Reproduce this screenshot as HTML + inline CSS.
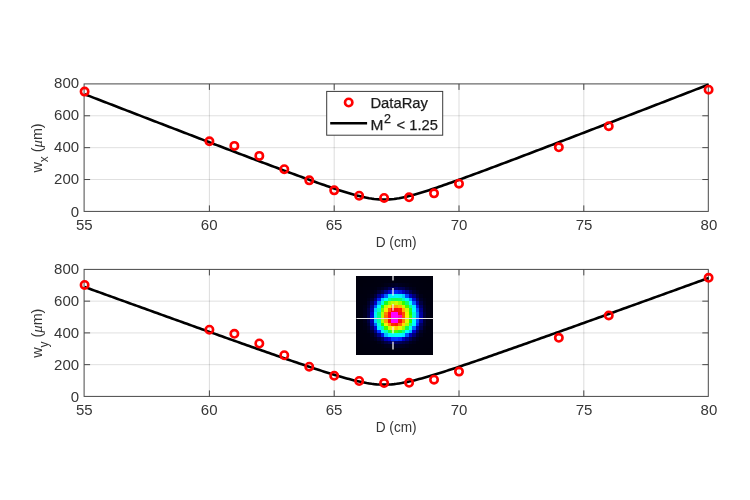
<!DOCTYPE html>
<html><head><meta charset="utf-8"><title>Beam width vs D</title>
<style>html,body{margin:0;padding:0;background:#fff;overflow:hidden}body{width:750px;height:500px;font-family:"Liberation Sans",sans-serif}</style></head>
<body>
<svg width="750" height="500" viewBox="0 0 750 500" style="display:block;will-change:transform;font-family:'Liberation Sans',sans-serif">
<rect width="750" height="500" fill="#fff"/>
<line x1="209.40" y1="83.9" x2="209.40" y2="211.4" stroke="rgba(38,38,38,0.16)" stroke-width="1"/>
<line x1="334.20" y1="83.9" x2="334.20" y2="211.4" stroke="rgba(38,38,38,0.16)" stroke-width="1"/>
<line x1="459.00" y1="83.9" x2="459.00" y2="211.4" stroke="rgba(38,38,38,0.16)" stroke-width="1"/>
<line x1="583.80" y1="83.9" x2="583.80" y2="211.4" stroke="rgba(38,38,38,0.16)" stroke-width="1"/>
<line x1="84.1" y1="179.53" x2="708.3" y2="179.53" stroke="rgba(38,38,38,0.14)" stroke-width="1"/>
<line x1="84.1" y1="147.65" x2="708.3" y2="147.65" stroke="rgba(38,38,38,0.14)" stroke-width="1"/>
<line x1="84.1" y1="115.78" x2="708.3" y2="115.78" stroke="rgba(38,38,38,0.14)" stroke-width="1"/>
<line x1="209.40" y1="211.4" x2="209.40" y2="205.4" stroke="#484848" stroke-width="1"/>
<line x1="209.40" y1="83.9" x2="209.40" y2="89.9" stroke="#484848" stroke-width="1"/>
<line x1="334.20" y1="211.4" x2="334.20" y2="205.4" stroke="#484848" stroke-width="1"/>
<line x1="334.20" y1="83.9" x2="334.20" y2="89.9" stroke="#484848" stroke-width="1"/>
<line x1="459.00" y1="211.4" x2="459.00" y2="205.4" stroke="#484848" stroke-width="1"/>
<line x1="459.00" y1="83.9" x2="459.00" y2="89.9" stroke="#484848" stroke-width="1"/>
<line x1="583.80" y1="211.4" x2="583.80" y2="205.4" stroke="#484848" stroke-width="1"/>
<line x1="583.80" y1="83.9" x2="583.80" y2="89.9" stroke="#484848" stroke-width="1"/>
<line x1="84.1" y1="179.53" x2="90.1" y2="179.53" stroke="#484848" stroke-width="1"/>
<line x1="708.3" y1="179.53" x2="702.3" y2="179.53" stroke="#484848" stroke-width="1"/>
<line x1="84.1" y1="147.65" x2="90.1" y2="147.65" stroke="#484848" stroke-width="1"/>
<line x1="708.3" y1="147.65" x2="702.3" y2="147.65" stroke="#484848" stroke-width="1"/>
<line x1="84.1" y1="115.78" x2="90.1" y2="115.78" stroke="#484848" stroke-width="1"/>
<line x1="708.3" y1="115.78" x2="702.3" y2="115.78" stroke="#484848" stroke-width="1"/>
<rect x="84.1" y="83.9" width="624.20" height="127.50" fill="none" stroke="#484848" stroke-width="1"/>
<polyline points="84.60,94.23 87.10,95.20 89.59,96.16 92.09,97.13 94.58,98.09 97.08,99.05 99.58,100.02 102.07,100.98 104.57,101.94 107.06,102.90 109.56,103.87 112.06,104.83 114.55,105.79 117.05,106.76 119.54,107.72 122.04,108.68 124.54,109.64 127.03,110.60 129.53,111.57 132.02,112.53 134.52,113.49 137.02,114.45 139.51,115.41 142.01,116.37 144.50,117.34 147.00,118.30 149.50,119.26 151.99,120.22 154.49,121.18 156.98,122.14 159.48,123.10 161.98,124.06 164.47,125.02 166.97,125.98 169.46,126.94 171.96,127.90 174.46,128.86 176.95,129.82 179.45,130.77 181.94,131.73 184.44,132.69 186.94,133.65 189.43,134.61 191.93,135.56 194.42,136.52 196.92,137.48 199.42,138.43 201.91,139.39 204.41,140.35 206.90,141.30 209.40,142.26 211.90,143.21 214.39,144.17 216.89,145.12 219.38,146.07 221.88,147.03 224.38,147.98 226.87,148.93 229.37,149.88 231.86,150.83 234.36,151.78 236.86,152.73 239.35,153.68 241.85,154.63 244.34,155.58 246.84,156.53 249.34,157.47 251.83,158.42 254.33,159.36 256.82,160.31 259.32,161.25 261.82,162.19 264.31,163.13 266.81,164.07 269.30,165.01 271.80,165.95 274.30,166.89 276.79,167.82 279.29,168.75 281.78,169.68 284.28,170.61 286.78,171.54 289.27,172.47 291.77,173.39 294.26,174.31 296.76,175.23 299.26,176.15 301.75,177.06 304.25,177.97 306.74,178.88 309.24,179.78 311.74,180.68 314.23,181.57 316.73,182.46 319.22,183.35 321.72,184.23 324.22,185.10 326.71,185.97 329.21,186.82 331.70,187.67 334.20,188.51 336.70,189.34 339.19,190.16 341.69,190.96 344.18,191.75 346.68,192.52 349.18,193.27 351.67,194.00 354.17,194.70 356.66,195.38 359.16,196.02 361.66,196.63 364.15,197.19 366.65,197.71 369.14,198.18 371.64,198.59 374.14,198.93 376.63,199.21 379.13,199.41 381.62,199.53 384.12,199.57 386.62,199.53 389.11,199.41 391.61,199.21 394.10,198.93 396.60,198.59 399.10,198.18 401.59,197.71 404.09,197.19 406.58,196.63 409.08,196.02 411.58,195.38 414.07,194.70 416.57,194.00 419.06,193.27 421.56,192.52 424.06,191.75 426.55,190.96 429.05,190.16 431.54,189.34 434.04,188.51 436.54,187.67 439.03,186.82 441.53,185.97 444.02,185.10 446.52,184.23 449.02,183.35 451.51,182.46 454.01,181.57 456.50,180.68 459.00,179.78 461.50,178.88 463.99,177.97 466.49,177.06 468.98,176.15 471.48,175.23 473.98,174.31 476.47,173.39 478.97,172.47 481.46,171.54 483.96,170.61 486.46,169.68 488.95,168.75 491.45,167.82 493.94,166.89 496.44,165.95 498.94,165.01 501.43,164.07 503.93,163.13 506.42,162.19 508.92,161.25 511.42,160.31 513.91,159.36 516.41,158.42 518.90,157.47 521.40,156.53 523.90,155.58 526.39,154.63 528.89,153.68 531.38,152.73 533.88,151.78 536.38,150.83 538.87,149.88 541.37,148.93 543.86,147.98 546.36,147.03 548.86,146.07 551.35,145.12 553.85,144.17 556.34,143.21 558.84,142.26 561.34,141.30 563.83,140.35 566.33,139.39 568.82,138.43 571.32,137.48 573.82,136.52 576.31,135.56 578.81,134.61 581.30,133.65 583.80,132.69 586.30,131.73 588.79,130.77 591.29,129.82 593.78,128.86 596.28,127.90 598.78,126.94 601.27,125.98 603.77,125.02 606.26,124.06 608.76,123.10 611.26,122.14 613.75,121.18 616.25,120.22 618.74,119.26 621.24,118.30 623.74,117.34 626.23,116.37 628.73,115.41 631.22,114.45 633.72,113.49 636.22,112.53 638.71,111.57 641.21,110.60 643.70,109.64 646.20,108.68 648.70,107.72 651.19,106.76 653.69,105.79 656.18,104.83 658.68,103.87 661.18,102.90 663.67,101.94 666.17,100.98 668.66,100.02 671.16,99.05 673.66,98.09 676.15,97.13 678.65,96.16 681.14,95.20 683.64,94.23 686.14,93.27 688.63,92.31 691.13,91.34 693.62,90.38 696.12,89.41 698.62,88.45 701.11,87.49 703.61,86.52 706.10,85.56 708.60,84.59" fill="none" stroke="#000" stroke-width="2.6" stroke-linejoin="round"/>
<circle cx="84.60" cy="91.60" r="3.7" fill="none" stroke="#ff0000" stroke-width="2.6"/>
<circle cx="209.40" cy="141.29" r="3.7" fill="none" stroke="#ff0000" stroke-width="2.6"/>
<circle cx="234.36" cy="145.90" r="3.7" fill="none" stroke="#ff0000" stroke-width="2.6"/>
<circle cx="259.32" cy="155.90" r="3.7" fill="none" stroke="#ff0000" stroke-width="2.6"/>
<circle cx="284.28" cy="169.23" r="3.7" fill="none" stroke="#ff0000" stroke-width="2.6"/>
<circle cx="309.24" cy="180.34" r="3.7" fill="none" stroke="#ff0000" stroke-width="2.6"/>
<circle cx="334.20" cy="190.34" r="3.7" fill="none" stroke="#ff0000" stroke-width="2.6"/>
<circle cx="359.16" cy="195.74" r="3.7" fill="none" stroke="#ff0000" stroke-width="2.6"/>
<circle cx="384.12" cy="197.97" r="3.7" fill="none" stroke="#ff0000" stroke-width="2.6"/>
<circle cx="409.08" cy="197.33" r="3.7" fill="none" stroke="#ff0000" stroke-width="2.6"/>
<circle cx="434.04" cy="193.36" r="3.7" fill="none" stroke="#ff0000" stroke-width="2.6"/>
<circle cx="459.00" cy="183.68" r="3.7" fill="none" stroke="#ff0000" stroke-width="2.6"/>
<circle cx="558.84" cy="147.32" r="3.7" fill="none" stroke="#ff0000" stroke-width="2.6"/>
<circle cx="608.76" cy="126.21" r="3.7" fill="none" stroke="#ff0000" stroke-width="2.6"/>
<circle cx="708.60" cy="89.70" r="3.7" fill="none" stroke="#ff0000" stroke-width="2.6"/>
<text x="79.10" y="216.50" text-anchor="end" font-size="15.0" fill="#363636">0</text>
<text x="79.10" y="184.43" text-anchor="end" font-size="15.0" fill="#363636">200</text>
<text x="79.10" y="152.35" text-anchor="end" font-size="15.0" fill="#363636">400</text>
<text x="79.10" y="120.28" text-anchor="end" font-size="15.0" fill="#363636">600</text>
<text x="79.10" y="88.20" text-anchor="end" font-size="15.0" fill="#363636">800</text>
<text x="84.30" y="229.80" text-anchor="middle" font-size="15.0" fill="#363636">55</text>
<text x="209.16" y="229.80" text-anchor="middle" font-size="15.0" fill="#363636">60</text>
<text x="334.11" y="229.80" text-anchor="middle" font-size="15.0" fill="#363636">65</text>
<text x="459.06" y="229.80" text-anchor="middle" font-size="15.0" fill="#363636">70</text>
<text x="584.01" y="229.80" text-anchor="middle" font-size="15.0" fill="#363636">75</text>
<text x="708.96" y="229.80" text-anchor="middle" font-size="15.0" fill="#363636">80</text>
<text x="396.20" y="247.20" text-anchor="middle" font-size="14.4" fill="#363636" textLength="41.0" lengthAdjust="spacingAndGlyphs">D (cm)</text>
<text transform="translate(41.6,172.55) rotate(-90)" font-size="15.0" fill="#363636" textLength="49.2" lengthAdjust="spacingAndGlyphs">w<tspan dy="6" font-size="12.5">x</tspan><tspan dy="-6"> (</tspan><tspan font-style="italic" font-family="'Liberation Serif',serif" font-size="15.5">μ</tspan>m)</text>
<line x1="209.40" y1="269.4" x2="209.40" y2="396.4" stroke="rgba(38,38,38,0.16)" stroke-width="1"/>
<line x1="334.20" y1="269.4" x2="334.20" y2="396.4" stroke="rgba(38,38,38,0.16)" stroke-width="1"/>
<line x1="459.00" y1="269.4" x2="459.00" y2="396.4" stroke="rgba(38,38,38,0.16)" stroke-width="1"/>
<line x1="583.80" y1="269.4" x2="583.80" y2="396.4" stroke="rgba(38,38,38,0.16)" stroke-width="1"/>
<line x1="84.1" y1="364.65" x2="708.3" y2="364.65" stroke="rgba(38,38,38,0.14)" stroke-width="1"/>
<line x1="84.1" y1="332.90" x2="708.3" y2="332.90" stroke="rgba(38,38,38,0.14)" stroke-width="1"/>
<line x1="84.1" y1="301.15" x2="708.3" y2="301.15" stroke="rgba(38,38,38,0.14)" stroke-width="1"/>
<g shape-rendering="crispEdges"><rect x="356.4" y="276.0" width="76.9" height="78.9" fill="#00000a"/>
<rect x="356.40" y="276.00" width="3.55" height="3.64" fill="#00000c"/>
<rect x="359.90" y="276.00" width="3.55" height="3.64" fill="#00000c"/>
<rect x="363.39" y="276.00" width="3.55" height="3.64" fill="#00000d"/>
<rect x="366.89" y="276.00" width="3.55" height="3.64" fill="#00000d"/>
<rect x="370.38" y="276.00" width="3.55" height="3.64" fill="#00000e"/>
<rect x="373.88" y="276.00" width="3.55" height="3.64" fill="#00000e"/>
<rect x="377.37" y="276.00" width="3.55" height="3.64" fill="#00000f"/>
<rect x="380.87" y="276.00" width="3.55" height="3.64" fill="#00000f"/>
<rect x="384.36" y="276.00" width="3.55" height="3.64" fill="#00000f"/>
<rect x="387.86" y="276.00" width="3.55" height="3.64" fill="#00000f"/>
<rect x="391.35" y="276.00" width="3.55" height="3.64" fill="#00000f"/>
<rect x="394.85" y="276.00" width="3.55" height="3.64" fill="#00000f"/>
<rect x="398.35" y="276.00" width="3.55" height="3.64" fill="#00000f"/>
<rect x="401.84" y="276.00" width="3.55" height="3.64" fill="#00000f"/>
<rect x="405.34" y="276.00" width="3.55" height="3.64" fill="#00000f"/>
<rect x="408.83" y="276.00" width="3.55" height="3.64" fill="#00000f"/>
<rect x="412.33" y="276.00" width="3.55" height="3.64" fill="#00000e"/>
<rect x="415.82" y="276.00" width="3.55" height="3.64" fill="#00000e"/>
<rect x="419.32" y="276.00" width="3.55" height="3.64" fill="#00000e"/>
<rect x="422.81" y="276.00" width="3.55" height="3.64" fill="#00000d"/>
<rect x="426.31" y="276.00" width="3.55" height="3.64" fill="#00000d"/>
<rect x="429.80" y="276.00" width="3.55" height="3.64" fill="#00000c"/>
<rect x="356.40" y="279.59" width="3.55" height="3.64" fill="#00000c"/>
<rect x="359.90" y="279.59" width="3.55" height="3.64" fill="#00000d"/>
<rect x="363.39" y="279.59" width="3.55" height="3.64" fill="#00000d"/>
<rect x="366.89" y="279.59" width="3.55" height="3.64" fill="#00000e"/>
<rect x="370.38" y="279.59" width="3.55" height="3.64" fill="#00000e"/>
<rect x="373.88" y="279.59" width="3.55" height="3.64" fill="#00000f"/>
<rect x="377.37" y="279.59" width="3.55" height="3.64" fill="#00000f"/>
<rect x="380.87" y="279.59" width="3.55" height="3.64" fill="#00000f"/>
<rect x="384.36" y="279.59" width="3.55" height="3.64" fill="#000010"/>
<rect x="387.86" y="279.59" width="3.55" height="3.64" fill="#000010"/>
<rect x="391.35" y="279.59" width="3.55" height="3.64" fill="#000010"/>
<rect x="394.85" y="279.59" width="3.55" height="3.64" fill="#000010"/>
<rect x="398.35" y="279.59" width="3.55" height="3.64" fill="#000010"/>
<rect x="401.84" y="279.59" width="3.55" height="3.64" fill="#000010"/>
<rect x="405.34" y="279.59" width="3.55" height="3.64" fill="#000010"/>
<rect x="408.83" y="279.59" width="3.55" height="3.64" fill="#00000f"/>
<rect x="412.33" y="279.59" width="3.55" height="3.64" fill="#00000f"/>
<rect x="415.82" y="279.59" width="3.55" height="3.64" fill="#00000f"/>
<rect x="419.32" y="279.59" width="3.55" height="3.64" fill="#00000e"/>
<rect x="422.81" y="279.59" width="3.55" height="3.64" fill="#00000e"/>
<rect x="426.31" y="279.59" width="3.55" height="3.64" fill="#00000d"/>
<rect x="429.80" y="279.59" width="3.55" height="3.64" fill="#00000d"/>
<rect x="356.40" y="283.17" width="3.55" height="3.64" fill="#00000d"/>
<rect x="359.90" y="283.17" width="3.55" height="3.64" fill="#00000d"/>
<rect x="363.39" y="283.17" width="3.55" height="3.64" fill="#00000e"/>
<rect x="366.89" y="283.17" width="3.55" height="3.64" fill="#00000e"/>
<rect x="370.38" y="283.17" width="3.55" height="3.64" fill="#00000f"/>
<rect x="373.88" y="283.17" width="3.55" height="3.64" fill="#00000f"/>
<rect x="377.37" y="283.17" width="3.55" height="3.64" fill="#000010"/>
<rect x="380.87" y="283.17" width="3.55" height="3.64" fill="#000012"/>
<rect x="384.36" y="283.17" width="3.55" height="3.64" fill="#000018"/>
<rect x="387.86" y="283.17" width="3.55" height="3.64" fill="#00001c"/>
<rect x="391.35" y="283.17" width="3.55" height="3.64" fill="#000022"/>
<rect x="394.85" y="283.17" width="3.55" height="3.64" fill="#000027"/>
<rect x="398.35" y="283.17" width="3.55" height="3.64" fill="#00001f"/>
<rect x="401.84" y="283.17" width="3.55" height="3.64" fill="#00001b"/>
<rect x="405.34" y="283.17" width="3.55" height="3.64" fill="#000017"/>
<rect x="408.83" y="283.17" width="3.55" height="3.64" fill="#000012"/>
<rect x="412.33" y="283.17" width="3.55" height="3.64" fill="#000010"/>
<rect x="415.82" y="283.17" width="3.55" height="3.64" fill="#00000f"/>
<rect x="419.32" y="283.17" width="3.55" height="3.64" fill="#00000f"/>
<rect x="422.81" y="283.17" width="3.55" height="3.64" fill="#00000e"/>
<rect x="426.31" y="283.17" width="3.55" height="3.64" fill="#00000e"/>
<rect x="429.80" y="283.17" width="3.55" height="3.64" fill="#00000d"/>
<rect x="356.40" y="286.76" width="3.55" height="3.64" fill="#00000d"/>
<rect x="359.90" y="286.76" width="3.55" height="3.64" fill="#00000e"/>
<rect x="363.39" y="286.76" width="3.55" height="3.64" fill="#00000f"/>
<rect x="366.89" y="286.76" width="3.55" height="3.64" fill="#00000f"/>
<rect x="370.38" y="286.76" width="3.55" height="3.64" fill="#000010"/>
<rect x="373.88" y="286.76" width="3.55" height="3.64" fill="#000012"/>
<rect x="377.37" y="286.76" width="3.55" height="3.64" fill="#00001b"/>
<rect x="380.87" y="286.76" width="3.55" height="3.64" fill="#000026"/>
<rect x="384.36" y="286.76" width="3.55" height="3.64" fill="#000037"/>
<rect x="387.86" y="286.76" width="3.55" height="3.64" fill="#000057"/>
<rect x="391.35" y="286.76" width="3.55" height="3.64" fill="#00005e"/>
<rect x="394.85" y="286.76" width="3.55" height="3.64" fill="#000072"/>
<rect x="398.35" y="286.76" width="3.55" height="3.64" fill="#000058"/>
<rect x="401.84" y="286.76" width="3.55" height="3.64" fill="#00004e"/>
<rect x="405.34" y="286.76" width="3.55" height="3.64" fill="#000031"/>
<rect x="408.83" y="286.76" width="3.55" height="3.64" fill="#000020"/>
<rect x="412.33" y="286.76" width="3.55" height="3.64" fill="#000018"/>
<rect x="415.82" y="286.76" width="3.55" height="3.64" fill="#000010"/>
<rect x="419.32" y="286.76" width="3.55" height="3.64" fill="#00000f"/>
<rect x="422.81" y="286.76" width="3.55" height="3.64" fill="#00000f"/>
<rect x="426.31" y="286.76" width="3.55" height="3.64" fill="#00000e"/>
<rect x="429.80" y="286.76" width="3.55" height="3.64" fill="#00000e"/>
<rect x="356.40" y="290.35" width="3.55" height="3.64" fill="#00000e"/>
<rect x="359.90" y="290.35" width="3.55" height="3.64" fill="#00000e"/>
<rect x="363.39" y="290.35" width="3.55" height="3.64" fill="#00000f"/>
<rect x="366.89" y="290.35" width="3.55" height="3.64" fill="#000010"/>
<rect x="370.38" y="290.35" width="3.55" height="3.64" fill="#000014"/>
<rect x="373.88" y="290.35" width="3.55" height="3.64" fill="#00001c"/>
<rect x="377.37" y="290.35" width="3.55" height="3.64" fill="#00003a"/>
<rect x="380.87" y="290.35" width="3.55" height="3.64" fill="#000058"/>
<rect x="384.36" y="290.35" width="3.55" height="3.64" fill="#000090"/>
<rect x="387.86" y="290.35" width="3.55" height="3.64" fill="#0008d2"/>
<rect x="391.35" y="290.35" width="3.55" height="3.64" fill="#0021f0"/>
<rect x="394.85" y="290.35" width="3.55" height="3.64" fill="#0026f7"/>
<rect x="398.35" y="290.35" width="3.55" height="3.64" fill="#0017e4"/>
<rect x="401.84" y="290.35" width="3.55" height="3.64" fill="#0000c0"/>
<rect x="405.34" y="290.35" width="3.55" height="3.64" fill="#00008b"/>
<rect x="408.83" y="290.35" width="3.55" height="3.64" fill="#000052"/>
<rect x="412.33" y="290.35" width="3.55" height="3.64" fill="#00002c"/>
<rect x="415.82" y="290.35" width="3.55" height="3.64" fill="#00001b"/>
<rect x="419.32" y="290.35" width="3.55" height="3.64" fill="#000010"/>
<rect x="422.81" y="290.35" width="3.55" height="3.64" fill="#00000f"/>
<rect x="426.31" y="290.35" width="3.55" height="3.64" fill="#00000f"/>
<rect x="429.80" y="290.35" width="3.55" height="3.64" fill="#00000e"/>
<rect x="356.40" y="293.93" width="3.55" height="3.64" fill="#00000e"/>
<rect x="359.90" y="293.93" width="3.55" height="3.64" fill="#00000f"/>
<rect x="363.39" y="293.93" width="3.55" height="3.64" fill="#00000f"/>
<rect x="366.89" y="293.93" width="3.55" height="3.64" fill="#000012"/>
<rect x="370.38" y="293.93" width="3.55" height="3.64" fill="#00001e"/>
<rect x="373.88" y="293.93" width="3.55" height="3.64" fill="#00003d"/>
<rect x="377.37" y="293.93" width="3.55" height="3.64" fill="#00008b"/>
<rect x="380.87" y="293.93" width="3.55" height="3.64" fill="#000ad4"/>
<rect x="384.36" y="293.93" width="3.55" height="3.64" fill="#005eff"/>
<rect x="387.86" y="293.93" width="3.55" height="3.64" fill="#00eeff"/>
<rect x="391.35" y="293.93" width="3.55" height="3.64" fill="#00f3ff"/>
<rect x="394.85" y="293.93" width="3.55" height="3.64" fill="#00f7ff"/>
<rect x="398.35" y="293.93" width="3.55" height="3.64" fill="#00f0ff"/>
<rect x="401.84" y="293.93" width="3.55" height="3.64" fill="#00cfff"/>
<rect x="405.34" y="293.93" width="3.55" height="3.64" fill="#0043ff"/>
<rect x="408.83" y="293.93" width="3.55" height="3.64" fill="#0000ba"/>
<rect x="412.33" y="293.93" width="3.55" height="3.64" fill="#000076"/>
<rect x="415.82" y="293.93" width="3.55" height="3.64" fill="#000038"/>
<rect x="419.32" y="293.93" width="3.55" height="3.64" fill="#000019"/>
<rect x="422.81" y="293.93" width="3.55" height="3.64" fill="#000010"/>
<rect x="426.31" y="293.93" width="3.55" height="3.64" fill="#00000f"/>
<rect x="429.80" y="293.93" width="3.55" height="3.64" fill="#00000f"/>
<rect x="356.40" y="297.52" width="3.55" height="3.64" fill="#00000e"/>
<rect x="359.90" y="297.52" width="3.55" height="3.64" fill="#00000f"/>
<rect x="363.39" y="297.52" width="3.55" height="3.64" fill="#000010"/>
<rect x="366.89" y="297.52" width="3.55" height="3.64" fill="#00001a"/>
<rect x="370.38" y="297.52" width="3.55" height="3.64" fill="#000036"/>
<rect x="373.88" y="297.52" width="3.55" height="3.64" fill="#000079"/>
<rect x="377.37" y="297.52" width="3.55" height="3.64" fill="#0021f0"/>
<rect x="380.87" y="297.52" width="3.55" height="3.64" fill="#00cfff"/>
<rect x="384.36" y="297.52" width="3.55" height="3.64" fill="#00fdff"/>
<rect x="387.86" y="297.52" width="3.55" height="3.64" fill="#04ff8a"/>
<rect x="391.35" y="297.52" width="3.55" height="3.64" fill="#0cff5e"/>
<rect x="394.85" y="297.52" width="3.55" height="3.64" fill="#0eff57"/>
<rect x="398.35" y="297.52" width="3.55" height="3.64" fill="#0bff67"/>
<rect x="401.84" y="297.52" width="3.55" height="3.64" fill="#00ffb7"/>
<rect x="405.34" y="297.52" width="3.55" height="3.64" fill="#00f5ff"/>
<rect x="408.83" y="297.52" width="3.55" height="3.64" fill="#0093ff"/>
<rect x="412.33" y="297.52" width="3.55" height="3.64" fill="#000bd6"/>
<rect x="415.82" y="297.52" width="3.55" height="3.64" fill="#000065"/>
<rect x="419.32" y="297.52" width="3.55" height="3.64" fill="#000029"/>
<rect x="422.81" y="297.52" width="3.55" height="3.64" fill="#000017"/>
<rect x="426.31" y="297.52" width="3.55" height="3.64" fill="#000010"/>
<rect x="429.80" y="297.52" width="3.55" height="3.64" fill="#00000f"/>
<rect x="356.40" y="301.10" width="3.55" height="3.64" fill="#00000f"/>
<rect x="359.90" y="301.10" width="3.55" height="3.64" fill="#00000f"/>
<rect x="363.39" y="301.10" width="3.55" height="3.64" fill="#000011"/>
<rect x="366.89" y="301.10" width="3.55" height="3.64" fill="#000027"/>
<rect x="370.38" y="301.10" width="3.55" height="3.64" fill="#00005b"/>
<rect x="373.88" y="301.10" width="3.55" height="3.64" fill="#0000c7"/>
<rect x="377.37" y="301.10" width="3.55" height="3.64" fill="#009aff"/>
<rect x="380.87" y="301.10" width="3.55" height="3.64" fill="#00ffda"/>
<rect x="384.36" y="301.10" width="3.55" height="3.64" fill="#18ff1f"/>
<rect x="387.86" y="301.10" width="3.55" height="3.64" fill="#91ff00"/>
<rect x="391.35" y="301.10" width="3.55" height="3.64" fill="#bdfd00"/>
<rect x="394.85" y="301.10" width="3.55" height="3.64" fill="#d1fa00"/>
<rect x="398.35" y="301.10" width="3.55" height="3.64" fill="#99ff00"/>
<rect x="401.84" y="301.10" width="3.55" height="3.64" fill="#2eff00"/>
<rect x="405.34" y="301.10" width="3.55" height="3.64" fill="#09ff6e"/>
<rect x="408.83" y="301.10" width="3.55" height="3.64" fill="#00fdff"/>
<rect x="412.33" y="301.10" width="3.55" height="3.64" fill="#005bff"/>
<rect x="415.82" y="301.10" width="3.55" height="3.64" fill="#0000a6"/>
<rect x="419.32" y="301.10" width="3.55" height="3.64" fill="#000043"/>
<rect x="422.81" y="301.10" width="3.55" height="3.64" fill="#00001d"/>
<rect x="426.31" y="301.10" width="3.55" height="3.64" fill="#000010"/>
<rect x="429.80" y="301.10" width="3.55" height="3.64" fill="#00000f"/>
<rect x="356.40" y="304.69" width="3.55" height="3.64" fill="#00000f"/>
<rect x="359.90" y="304.69" width="3.55" height="3.64" fill="#000010"/>
<rect x="363.39" y="304.69" width="3.55" height="3.64" fill="#000017"/>
<rect x="366.89" y="304.69" width="3.55" height="3.64" fill="#000033"/>
<rect x="370.38" y="304.69" width="3.55" height="3.64" fill="#000088"/>
<rect x="373.88" y="304.69" width="3.55" height="3.64" fill="#0051ff"/>
<rect x="377.37" y="304.69" width="3.55" height="3.64" fill="#00f9ff"/>
<rect x="380.87" y="304.69" width="3.55" height="3.64" fill="#18ff1f"/>
<rect x="384.36" y="304.69" width="3.55" height="3.64" fill="#c5fc00"/>
<rect x="387.86" y="304.69" width="3.55" height="3.64" fill="#ffec00"/>
<rect x="391.35" y="304.69" width="3.55" height="3.64" fill="#ffa700"/>
<rect x="394.85" y="304.69" width="3.55" height="3.64" fill="#ffa000"/>
<rect x="398.35" y="304.69" width="3.55" height="3.64" fill="#ffbb00"/>
<rect x="401.84" y="304.69" width="3.55" height="3.64" fill="#d3fa00"/>
<rect x="405.34" y="304.69" width="3.55" height="3.64" fill="#41ff00"/>
<rect x="408.83" y="304.69" width="3.55" height="3.64" fill="#02ff93"/>
<rect x="412.33" y="304.69" width="3.55" height="3.64" fill="#00edff"/>
<rect x="415.82" y="304.69" width="3.55" height="3.64" fill="#0016e3"/>
<rect x="419.32" y="304.69" width="3.55" height="3.64" fill="#000066"/>
<rect x="422.81" y="304.69" width="3.55" height="3.64" fill="#000028"/>
<rect x="426.31" y="304.69" width="3.55" height="3.64" fill="#000014"/>
<rect x="429.80" y="304.69" width="3.55" height="3.64" fill="#00000f"/>
<rect x="356.40" y="308.28" width="3.55" height="3.64" fill="#00000f"/>
<rect x="359.90" y="308.28" width="3.55" height="3.64" fill="#000010"/>
<rect x="363.39" y="308.28" width="3.55" height="3.64" fill="#00001a"/>
<rect x="366.89" y="308.28" width="3.55" height="3.64" fill="#000045"/>
<rect x="370.38" y="308.28" width="3.55" height="3.64" fill="#0000a6"/>
<rect x="373.88" y="308.28" width="3.55" height="3.64" fill="#00d3ff"/>
<rect x="377.37" y="308.28" width="3.55" height="3.64" fill="#00ffc4"/>
<rect x="380.87" y="308.28" width="3.55" height="3.64" fill="#6dff00"/>
<rect x="384.36" y="308.28" width="3.55" height="3.64" fill="#ffe800"/>
<rect x="387.86" y="308.28" width="3.55" height="3.64" fill="#ff5a00"/>
<rect x="391.35" y="308.28" width="3.55" height="3.64" fill="#ff0906"/>
<rect x="394.85" y="308.28" width="3.55" height="3.64" fill="#ff0611"/>
<rect x="398.35" y="308.28" width="3.55" height="3.64" fill="#ff1b00"/>
<rect x="401.84" y="308.28" width="3.55" height="3.64" fill="#ffb100"/>
<rect x="405.34" y="308.28" width="3.55" height="3.64" fill="#d2fa00"/>
<rect x="408.83" y="308.28" width="3.55" height="3.64" fill="#19ff1d"/>
<rect x="412.33" y="308.28" width="3.55" height="3.64" fill="#00fcff"/>
<rect x="415.82" y="308.28" width="3.55" height="3.64" fill="#0051ff"/>
<rect x="419.32" y="308.28" width="3.55" height="3.64" fill="#00008b"/>
<rect x="422.81" y="308.28" width="3.55" height="3.64" fill="#00002e"/>
<rect x="426.31" y="308.28" width="3.55" height="3.64" fill="#000016"/>
<rect x="429.80" y="308.28" width="3.55" height="3.64" fill="#000010"/>
<rect x="356.40" y="311.86" width="3.55" height="3.64" fill="#00000f"/>
<rect x="359.90" y="311.86" width="3.55" height="3.64" fill="#000010"/>
<rect x="363.39" y="311.86" width="3.55" height="3.64" fill="#00001c"/>
<rect x="366.89" y="311.86" width="3.55" height="3.64" fill="#000046"/>
<rect x="370.38" y="311.86" width="3.55" height="3.64" fill="#0001c9"/>
<rect x="373.88" y="311.86" width="3.55" height="3.64" fill="#00efff"/>
<rect x="377.37" y="311.86" width="3.55" height="3.64" fill="#07ff79"/>
<rect x="380.87" y="311.86" width="3.55" height="3.64" fill="#b2fe00"/>
<rect x="384.36" y="311.86" width="3.55" height="3.64" fill="#ff8200"/>
<rect x="387.86" y="311.86" width="3.55" height="3.64" fill="#ff0610"/>
<rect x="391.35" y="311.86" width="3.55" height="3.64" fill="#ff00ff"/>
<rect x="394.85" y="311.86" width="3.55" height="3.64" fill="#ff00ff"/>
<rect x="398.35" y="311.86" width="3.55" height="3.64" fill="#ff021e"/>
<rect x="401.84" y="311.86" width="3.55" height="3.64" fill="#ff4800"/>
<rect x="405.34" y="311.86" width="3.55" height="3.64" fill="#f1f700"/>
<rect x="408.83" y="311.86" width="3.55" height="3.64" fill="#21ff00"/>
<rect x="412.33" y="311.86" width="3.55" height="3.64" fill="#00ffd0"/>
<rect x="415.82" y="311.86" width="3.55" height="3.64" fill="#007aff"/>
<rect x="419.32" y="311.86" width="3.55" height="3.64" fill="#0000a2"/>
<rect x="422.81" y="311.86" width="3.55" height="3.64" fill="#000038"/>
<rect x="426.31" y="311.86" width="3.55" height="3.64" fill="#000018"/>
<rect x="429.80" y="311.86" width="3.55" height="3.64" fill="#000010"/>
<rect x="356.40" y="315.45" width="3.55" height="3.64" fill="#00000f"/>
<rect x="359.90" y="315.45" width="3.55" height="3.64" fill="#000010"/>
<rect x="363.39" y="315.45" width="3.55" height="3.64" fill="#00001e"/>
<rect x="366.89" y="315.45" width="3.55" height="3.64" fill="#00004f"/>
<rect x="370.38" y="315.45" width="3.55" height="3.64" fill="#0008d2"/>
<rect x="373.88" y="315.45" width="3.55" height="3.64" fill="#00f1ff"/>
<rect x="377.37" y="315.45" width="3.55" height="3.64" fill="#04ff8a"/>
<rect x="380.87" y="315.45" width="3.55" height="3.64" fill="#b9fd00"/>
<rect x="384.36" y="315.45" width="3.55" height="3.64" fill="#ff6d00"/>
<rect x="387.86" y="315.45" width="3.55" height="3.64" fill="#ff0125"/>
<rect x="391.35" y="315.45" width="3.55" height="3.64" fill="#ff00ff"/>
<rect x="394.85" y="315.45" width="3.55" height="3.64" fill="#ff00ff"/>
<rect x="398.35" y="315.45" width="3.55" height="3.64" fill="#ff00ba"/>
<rect x="401.84" y="315.45" width="3.55" height="3.64" fill="#ff5100"/>
<rect x="405.34" y="315.45" width="3.55" height="3.64" fill="#faf600"/>
<rect x="408.83" y="315.45" width="3.55" height="3.64" fill="#44ff00"/>
<rect x="412.33" y="315.45" width="3.55" height="3.64" fill="#00ffd3"/>
<rect x="415.82" y="315.45" width="3.55" height="3.64" fill="#0077ff"/>
<rect x="419.32" y="315.45" width="3.55" height="3.64" fill="#0000a7"/>
<rect x="422.81" y="315.45" width="3.55" height="3.64" fill="#000038"/>
<rect x="426.31" y="315.45" width="3.55" height="3.64" fill="#000017"/>
<rect x="429.80" y="315.45" width="3.55" height="3.64" fill="#000010"/>
<rect x="356.40" y="319.04" width="3.55" height="3.64" fill="#00000f"/>
<rect x="359.90" y="319.04" width="3.55" height="3.64" fill="#000010"/>
<rect x="363.39" y="319.04" width="3.55" height="3.64" fill="#00001b"/>
<rect x="366.89" y="319.04" width="3.55" height="3.64" fill="#000041"/>
<rect x="370.38" y="319.04" width="3.55" height="3.64" fill="#0000ac"/>
<rect x="373.88" y="319.04" width="3.55" height="3.64" fill="#00d4ff"/>
<rect x="377.37" y="319.04" width="3.55" height="3.64" fill="#00ffa8"/>
<rect x="380.87" y="319.04" width="3.55" height="3.64" fill="#a4ff00"/>
<rect x="384.36" y="319.04" width="3.55" height="3.64" fill="#ffa100"/>
<rect x="387.86" y="319.04" width="3.55" height="3.64" fill="#ff070d"/>
<rect x="391.35" y="319.04" width="3.55" height="3.64" fill="#ff00ff"/>
<rect x="394.85" y="319.04" width="3.55" height="3.64" fill="#ff00ff"/>
<rect x="398.35" y="319.04" width="3.55" height="3.64" fill="#ff041a"/>
<rect x="401.84" y="319.04" width="3.55" height="3.64" fill="#ff7b00"/>
<rect x="405.34" y="319.04" width="3.55" height="3.64" fill="#e3f800"/>
<rect x="408.83" y="319.04" width="3.55" height="3.64" fill="#22ff00"/>
<rect x="412.33" y="319.04" width="3.55" height="3.64" fill="#00fffd"/>
<rect x="415.82" y="319.04" width="3.55" height="3.64" fill="#004cff"/>
<rect x="419.32" y="319.04" width="3.55" height="3.64" fill="#000097"/>
<rect x="422.81" y="319.04" width="3.55" height="3.64" fill="#000033"/>
<rect x="426.31" y="319.04" width="3.55" height="3.64" fill="#000017"/>
<rect x="429.80" y="319.04" width="3.55" height="3.64" fill="#00000f"/>
<rect x="356.40" y="322.62" width="3.55" height="3.64" fill="#00000f"/>
<rect x="359.90" y="322.62" width="3.55" height="3.64" fill="#000010"/>
<rect x="363.39" y="322.62" width="3.55" height="3.64" fill="#000016"/>
<rect x="366.89" y="322.62" width="3.55" height="3.64" fill="#000030"/>
<rect x="370.38" y="322.62" width="3.55" height="3.64" fill="#000092"/>
<rect x="373.88" y="322.62" width="3.55" height="3.64" fill="#0063ff"/>
<rect x="377.37" y="322.62" width="3.55" height="3.64" fill="#00ffd6"/>
<rect x="380.87" y="322.62" width="3.55" height="3.64" fill="#24ff00"/>
<rect x="384.36" y="322.62" width="3.55" height="3.64" fill="#ebf700"/>
<rect x="387.86" y="322.62" width="3.55" height="3.64" fill="#ff8b00"/>
<rect x="391.35" y="322.62" width="3.55" height="3.64" fill="#ff2a00"/>
<rect x="394.85" y="322.62" width="3.55" height="3.64" fill="#ff1d00"/>
<rect x="398.35" y="322.62" width="3.55" height="3.64" fill="#ff6800"/>
<rect x="401.84" y="322.62" width="3.55" height="3.64" fill="#ffdb00"/>
<rect x="405.34" y="322.62" width="3.55" height="3.64" fill="#aaff00"/>
<rect x="408.83" y="322.62" width="3.55" height="3.64" fill="#06ff82"/>
<rect x="412.33" y="322.62" width="3.55" height="3.64" fill="#00f6ff"/>
<rect x="415.82" y="322.62" width="3.55" height="3.64" fill="#002afb"/>
<rect x="419.32" y="322.62" width="3.55" height="3.64" fill="#000065"/>
<rect x="422.81" y="322.62" width="3.55" height="3.64" fill="#00002d"/>
<rect x="426.31" y="322.62" width="3.55" height="3.64" fill="#000015"/>
<rect x="429.80" y="322.62" width="3.55" height="3.64" fill="#00000f"/>
<rect x="356.40" y="326.21" width="3.55" height="3.64" fill="#00000f"/>
<rect x="359.90" y="326.21" width="3.55" height="3.64" fill="#00000f"/>
<rect x="363.39" y="326.21" width="3.55" height="3.64" fill="#000014"/>
<rect x="366.89" y="326.21" width="3.55" height="3.64" fill="#000022"/>
<rect x="370.38" y="326.21" width="3.55" height="3.64" fill="#000063"/>
<rect x="373.88" y="326.21" width="3.55" height="3.64" fill="#0006cf"/>
<rect x="377.37" y="326.21" width="3.55" height="3.64" fill="#00ebff"/>
<rect x="380.87" y="326.21" width="3.55" height="3.64" fill="#00ffb5"/>
<rect x="384.36" y="326.21" width="3.55" height="3.64" fill="#3cff00"/>
<rect x="387.86" y="326.21" width="3.55" height="3.64" fill="#d4fa00"/>
<rect x="391.35" y="326.21" width="3.55" height="3.64" fill="#ffec00"/>
<rect x="394.85" y="326.21" width="3.55" height="3.64" fill="#ffc800"/>
<rect x="398.35" y="326.21" width="3.55" height="3.64" fill="#e6f800"/>
<rect x="401.84" y="326.21" width="3.55" height="3.64" fill="#98ff00"/>
<rect x="405.34" y="326.21" width="3.55" height="3.64" fill="#10ff4c"/>
<rect x="408.83" y="326.21" width="3.55" height="3.64" fill="#00ffe8"/>
<rect x="412.33" y="326.21" width="3.55" height="3.64" fill="#0068ff"/>
<rect x="415.82" y="326.21" width="3.55" height="3.64" fill="#0000a1"/>
<rect x="419.32" y="326.21" width="3.55" height="3.64" fill="#00004e"/>
<rect x="422.81" y="326.21" width="3.55" height="3.64" fill="#00001e"/>
<rect x="426.31" y="326.21" width="3.55" height="3.64" fill="#000010"/>
<rect x="429.80" y="326.21" width="3.55" height="3.64" fill="#00000f"/>
<rect x="356.40" y="329.80" width="3.55" height="3.64" fill="#00000e"/>
<rect x="359.90" y="329.80" width="3.55" height="3.64" fill="#00000f"/>
<rect x="363.39" y="329.80" width="3.55" height="3.64" fill="#000010"/>
<rect x="366.89" y="329.80" width="3.55" height="3.64" fill="#000019"/>
<rect x="370.38" y="329.80" width="3.55" height="3.64" fill="#000033"/>
<rect x="373.88" y="329.80" width="3.55" height="3.64" fill="#000084"/>
<rect x="377.37" y="329.80" width="3.55" height="3.64" fill="#0031ff"/>
<rect x="380.87" y="329.80" width="3.55" height="3.64" fill="#00f1ff"/>
<rect x="384.36" y="329.80" width="3.55" height="3.64" fill="#00ffbc"/>
<rect x="387.86" y="329.80" width="3.55" height="3.64" fill="#14ff35"/>
<rect x="391.35" y="329.80" width="3.55" height="3.64" fill="#50ff00"/>
<rect x="394.85" y="329.80" width="3.55" height="3.64" fill="#47ff00"/>
<rect x="398.35" y="329.80" width="3.55" height="3.64" fill="#16ff29"/>
<rect x="401.84" y="329.80" width="3.55" height="3.64" fill="#06ff80"/>
<rect x="405.34" y="329.80" width="3.55" height="3.64" fill="#00fdff"/>
<rect x="408.83" y="329.80" width="3.55" height="3.64" fill="#00b9ff"/>
<rect x="412.33" y="329.80" width="3.55" height="3.64" fill="#0003cc"/>
<rect x="415.82" y="329.80" width="3.55" height="3.64" fill="#000060"/>
<rect x="419.32" y="329.80" width="3.55" height="3.64" fill="#00002b"/>
<rect x="422.81" y="329.80" width="3.55" height="3.64" fill="#000016"/>
<rect x="426.31" y="329.80" width="3.55" height="3.64" fill="#000010"/>
<rect x="429.80" y="329.80" width="3.55" height="3.64" fill="#00000f"/>
<rect x="356.40" y="333.38" width="3.55" height="3.64" fill="#00000e"/>
<rect x="359.90" y="333.38" width="3.55" height="3.64" fill="#00000f"/>
<rect x="363.39" y="333.38" width="3.55" height="3.64" fill="#00000f"/>
<rect x="366.89" y="333.38" width="3.55" height="3.64" fill="#000010"/>
<rect x="370.38" y="333.38" width="3.55" height="3.64" fill="#00001c"/>
<rect x="373.88" y="333.38" width="3.55" height="3.64" fill="#000041"/>
<rect x="377.37" y="333.38" width="3.55" height="3.64" fill="#000089"/>
<rect x="380.87" y="333.38" width="3.55" height="3.64" fill="#0018e5"/>
<rect x="384.36" y="333.38" width="3.55" height="3.64" fill="#00b7ff"/>
<rect x="387.86" y="333.38" width="3.55" height="3.64" fill="#00f7ff"/>
<rect x="391.35" y="333.38" width="3.55" height="3.64" fill="#00fff1"/>
<rect x="394.85" y="333.38" width="3.55" height="3.64" fill="#00fff7"/>
<rect x="398.35" y="333.38" width="3.55" height="3.64" fill="#00fdff"/>
<rect x="401.84" y="333.38" width="3.55" height="3.64" fill="#00f0ff"/>
<rect x="405.34" y="333.38" width="3.55" height="3.64" fill="#0056ff"/>
<rect x="408.83" y="333.38" width="3.55" height="3.64" fill="#0000bb"/>
<rect x="412.33" y="333.38" width="3.55" height="3.64" fill="#000074"/>
<rect x="415.82" y="333.38" width="3.55" height="3.64" fill="#000032"/>
<rect x="419.32" y="333.38" width="3.55" height="3.64" fill="#00001b"/>
<rect x="422.81" y="333.38" width="3.55" height="3.64" fill="#000010"/>
<rect x="426.31" y="333.38" width="3.55" height="3.64" fill="#00000f"/>
<rect x="429.80" y="333.38" width="3.55" height="3.64" fill="#00000f"/>
<rect x="356.40" y="336.97" width="3.55" height="3.64" fill="#00000e"/>
<rect x="359.90" y="336.97" width="3.55" height="3.64" fill="#00000e"/>
<rect x="363.39" y="336.97" width="3.55" height="3.64" fill="#00000f"/>
<rect x="366.89" y="336.97" width="3.55" height="3.64" fill="#000010"/>
<rect x="370.38" y="336.97" width="3.55" height="3.64" fill="#000014"/>
<rect x="373.88" y="336.97" width="3.55" height="3.64" fill="#000020"/>
<rect x="377.37" y="336.97" width="3.55" height="3.64" fill="#00003d"/>
<rect x="380.87" y="336.97" width="3.55" height="3.64" fill="#000062"/>
<rect x="384.36" y="336.97" width="3.55" height="3.64" fill="#0000b4"/>
<rect x="387.86" y="336.97" width="3.55" height="3.64" fill="#0007d1"/>
<rect x="391.35" y="336.97" width="3.55" height="3.64" fill="#0032ff"/>
<rect x="394.85" y="336.97" width="3.55" height="3.64" fill="#0038ff"/>
<rect x="398.35" y="336.97" width="3.55" height="3.64" fill="#0028f9"/>
<rect x="401.84" y="336.97" width="3.55" height="3.64" fill="#0000c4"/>
<rect x="405.34" y="336.97" width="3.55" height="3.64" fill="#00008a"/>
<rect x="408.83" y="336.97" width="3.55" height="3.64" fill="#000057"/>
<rect x="412.33" y="336.97" width="3.55" height="3.64" fill="#000031"/>
<rect x="415.82" y="336.97" width="3.55" height="3.64" fill="#00001b"/>
<rect x="419.32" y="336.97" width="3.55" height="3.64" fill="#000010"/>
<rect x="422.81" y="336.97" width="3.55" height="3.64" fill="#00000f"/>
<rect x="426.31" y="336.97" width="3.55" height="3.64" fill="#00000f"/>
<rect x="429.80" y="336.97" width="3.55" height="3.64" fill="#00000e"/>
<rect x="356.40" y="340.55" width="3.55" height="3.64" fill="#00000d"/>
<rect x="359.90" y="340.55" width="3.55" height="3.64" fill="#00000e"/>
<rect x="363.39" y="340.55" width="3.55" height="3.64" fill="#00000f"/>
<rect x="366.89" y="340.55" width="3.55" height="3.64" fill="#00000f"/>
<rect x="370.38" y="340.55" width="3.55" height="3.64" fill="#000010"/>
<rect x="373.88" y="340.55" width="3.55" height="3.64" fill="#000010"/>
<rect x="377.37" y="340.55" width="3.55" height="3.64" fill="#00001a"/>
<rect x="380.87" y="340.55" width="3.55" height="3.64" fill="#00002c"/>
<rect x="384.36" y="340.55" width="3.55" height="3.64" fill="#000044"/>
<rect x="387.86" y="340.55" width="3.55" height="3.64" fill="#000058"/>
<rect x="391.35" y="340.55" width="3.55" height="3.64" fill="#00006f"/>
<rect x="394.85" y="340.55" width="3.55" height="3.64" fill="#000068"/>
<rect x="398.35" y="340.55" width="3.55" height="3.64" fill="#00005b"/>
<rect x="401.84" y="340.55" width="3.55" height="3.64" fill="#00004a"/>
<rect x="405.34" y="340.55" width="3.55" height="3.64" fill="#00003c"/>
<rect x="408.83" y="340.55" width="3.55" height="3.64" fill="#000023"/>
<rect x="412.33" y="340.55" width="3.55" height="3.64" fill="#000019"/>
<rect x="415.82" y="340.55" width="3.55" height="3.64" fill="#000010"/>
<rect x="419.32" y="340.55" width="3.55" height="3.64" fill="#00000f"/>
<rect x="422.81" y="340.55" width="3.55" height="3.64" fill="#00000f"/>
<rect x="426.31" y="340.55" width="3.55" height="3.64" fill="#00000e"/>
<rect x="429.80" y="340.55" width="3.55" height="3.64" fill="#00000e"/>
<rect x="356.40" y="344.14" width="3.55" height="3.64" fill="#00000d"/>
<rect x="359.90" y="344.14" width="3.55" height="3.64" fill="#00000d"/>
<rect x="363.39" y="344.14" width="3.55" height="3.64" fill="#00000e"/>
<rect x="366.89" y="344.14" width="3.55" height="3.64" fill="#00000e"/>
<rect x="370.38" y="344.14" width="3.55" height="3.64" fill="#00000f"/>
<rect x="373.88" y="344.14" width="3.55" height="3.64" fill="#00000f"/>
<rect x="377.37" y="344.14" width="3.55" height="3.64" fill="#000010"/>
<rect x="380.87" y="344.14" width="3.55" height="3.64" fill="#000014"/>
<rect x="384.36" y="344.14" width="3.55" height="3.64" fill="#00001b"/>
<rect x="387.86" y="344.14" width="3.55" height="3.64" fill="#00001e"/>
<rect x="391.35" y="344.14" width="3.55" height="3.64" fill="#000022"/>
<rect x="394.85" y="344.14" width="3.55" height="3.64" fill="#000028"/>
<rect x="398.35" y="344.14" width="3.55" height="3.64" fill="#000024"/>
<rect x="401.84" y="344.14" width="3.55" height="3.64" fill="#000020"/>
<rect x="405.34" y="344.14" width="3.55" height="3.64" fill="#00001a"/>
<rect x="408.83" y="344.14" width="3.55" height="3.64" fill="#000012"/>
<rect x="412.33" y="344.14" width="3.55" height="3.64" fill="#000010"/>
<rect x="415.82" y="344.14" width="3.55" height="3.64" fill="#00000f"/>
<rect x="419.32" y="344.14" width="3.55" height="3.64" fill="#00000f"/>
<rect x="422.81" y="344.14" width="3.55" height="3.64" fill="#00000e"/>
<rect x="426.31" y="344.14" width="3.55" height="3.64" fill="#00000e"/>
<rect x="429.80" y="344.14" width="3.55" height="3.64" fill="#00000d"/>
<rect x="356.40" y="347.73" width="3.55" height="3.64" fill="#00000c"/>
<rect x="359.90" y="347.73" width="3.55" height="3.64" fill="#00000d"/>
<rect x="363.39" y="347.73" width="3.55" height="3.64" fill="#00000d"/>
<rect x="366.89" y="347.73" width="3.55" height="3.64" fill="#00000e"/>
<rect x="370.38" y="347.73" width="3.55" height="3.64" fill="#00000e"/>
<rect x="373.88" y="347.73" width="3.55" height="3.64" fill="#00000f"/>
<rect x="377.37" y="347.73" width="3.55" height="3.64" fill="#00000f"/>
<rect x="380.87" y="347.73" width="3.55" height="3.64" fill="#00000f"/>
<rect x="384.36" y="347.73" width="3.55" height="3.64" fill="#000010"/>
<rect x="387.86" y="347.73" width="3.55" height="3.64" fill="#000010"/>
<rect x="391.35" y="347.73" width="3.55" height="3.64" fill="#000011"/>
<rect x="394.85" y="347.73" width="3.55" height="3.64" fill="#000013"/>
<rect x="398.35" y="347.73" width="3.55" height="3.64" fill="#000010"/>
<rect x="401.84" y="347.73" width="3.55" height="3.64" fill="#000010"/>
<rect x="405.34" y="347.73" width="3.55" height="3.64" fill="#000010"/>
<rect x="408.83" y="347.73" width="3.55" height="3.64" fill="#00000f"/>
<rect x="412.33" y="347.73" width="3.55" height="3.64" fill="#00000f"/>
<rect x="415.82" y="347.73" width="3.55" height="3.64" fill="#00000f"/>
<rect x="419.32" y="347.73" width="3.55" height="3.64" fill="#00000e"/>
<rect x="422.81" y="347.73" width="3.55" height="3.64" fill="#00000e"/>
<rect x="426.31" y="347.73" width="3.55" height="3.64" fill="#00000d"/>
<rect x="429.80" y="347.73" width="3.55" height="3.64" fill="#00000d"/>
<rect x="356.40" y="351.31" width="3.55" height="3.64" fill="#00000c"/>
<rect x="359.90" y="351.31" width="3.55" height="3.64" fill="#00000c"/>
<rect x="363.39" y="351.31" width="3.55" height="3.64" fill="#00000d"/>
<rect x="366.89" y="351.31" width="3.55" height="3.64" fill="#00000d"/>
<rect x="370.38" y="351.31" width="3.55" height="3.64" fill="#00000e"/>
<rect x="373.88" y="351.31" width="3.55" height="3.64" fill="#00000e"/>
<rect x="377.37" y="351.31" width="3.55" height="3.64" fill="#00000e"/>
<rect x="380.87" y="351.31" width="3.55" height="3.64" fill="#00000f"/>
<rect x="384.36" y="351.31" width="3.55" height="3.64" fill="#00000f"/>
<rect x="387.86" y="351.31" width="3.55" height="3.64" fill="#00000f"/>
<rect x="391.35" y="351.31" width="3.55" height="3.64" fill="#00000f"/>
<rect x="394.85" y="351.31" width="3.55" height="3.64" fill="#00000f"/>
<rect x="398.35" y="351.31" width="3.55" height="3.64" fill="#00000f"/>
<rect x="401.84" y="351.31" width="3.55" height="3.64" fill="#00000f"/>
<rect x="405.34" y="351.31" width="3.55" height="3.64" fill="#00000f"/>
<rect x="408.83" y="351.31" width="3.55" height="3.64" fill="#00000f"/>
<rect x="412.33" y="351.31" width="3.55" height="3.64" fill="#00000e"/>
<rect x="415.82" y="351.31" width="3.55" height="3.64" fill="#00000e"/>
<rect x="419.32" y="351.31" width="3.55" height="3.64" fill="#00000e"/>
<rect x="422.81" y="351.31" width="3.55" height="3.64" fill="#00000d"/>
<rect x="426.31" y="351.31" width="3.55" height="3.64" fill="#00000d"/>
<rect x="429.80" y="351.31" width="3.55" height="3.64" fill="#00000c"/>
</g>
<line x1="356.4" y1="318.5" x2="433.3" y2="318.5" stroke="#e4e4e4" stroke-width="1"/>
<line x1="393.0" y1="276.0" x2="393.0" y2="280.5" stroke="#eeeeee" stroke-width="1.3"/>
<line x1="393.0" y1="288.0" x2="393.0" y2="295.4" stroke="#eeeeee" stroke-width="1.3"/>
<line x1="393.0" y1="304.0" x2="393.0" y2="310.8" stroke="#eeeeee" stroke-width="1.3"/>
<line x1="393.0" y1="326.7" x2="393.0" y2="333.6" stroke="#eeeeee" stroke-width="1.3"/>
<line x1="393.0" y1="341.8" x2="393.0" y2="349.6" stroke="#eeeeee" stroke-width="1.3"/>
<line x1="209.40" y1="396.4" x2="209.40" y2="390.4" stroke="#484848" stroke-width="1"/>
<line x1="209.40" y1="269.4" x2="209.40" y2="275.4" stroke="#484848" stroke-width="1"/>
<line x1="334.20" y1="396.4" x2="334.20" y2="390.4" stroke="#484848" stroke-width="1"/>
<line x1="334.20" y1="269.4" x2="334.20" y2="275.4" stroke="#484848" stroke-width="1"/>
<line x1="459.00" y1="396.4" x2="459.00" y2="390.4" stroke="#484848" stroke-width="1"/>
<line x1="459.00" y1="269.4" x2="459.00" y2="275.4" stroke="#484848" stroke-width="1"/>
<line x1="583.80" y1="396.4" x2="583.80" y2="390.4" stroke="#484848" stroke-width="1"/>
<line x1="583.80" y1="269.4" x2="583.80" y2="275.4" stroke="#484848" stroke-width="1"/>
<line x1="84.1" y1="364.65" x2="90.1" y2="364.65" stroke="#484848" stroke-width="1"/>
<line x1="708.3" y1="364.65" x2="702.3" y2="364.65" stroke="#484848" stroke-width="1"/>
<line x1="84.1" y1="332.90" x2="90.1" y2="332.90" stroke="#484848" stroke-width="1"/>
<line x1="708.3" y1="332.90" x2="702.3" y2="332.90" stroke="#484848" stroke-width="1"/>
<line x1="84.1" y1="301.15" x2="90.1" y2="301.15" stroke="#484848" stroke-width="1"/>
<line x1="708.3" y1="301.15" x2="702.3" y2="301.15" stroke="#484848" stroke-width="1"/>
<rect x="84.1" y="269.4" width="624.20" height="127.00" fill="none" stroke="#484848" stroke-width="1"/>
<polyline points="84.60,286.99 87.10,287.89 89.59,288.79 92.09,289.70 94.58,290.60 97.08,291.50 99.58,292.40 102.07,293.30 104.57,294.20 107.06,295.10 109.56,296.00 112.06,296.90 114.55,297.80 117.05,298.70 119.54,299.60 122.04,300.50 124.54,301.40 127.03,302.30 129.53,303.20 132.02,304.10 134.52,305.00 137.02,305.89 139.51,306.79 142.01,307.69 144.50,308.59 147.00,309.49 149.50,310.39 151.99,311.28 154.49,312.18 156.98,313.08 159.48,313.98 161.98,314.87 164.47,315.77 166.97,316.67 169.46,317.56 171.96,318.46 174.46,319.36 176.95,320.25 179.45,321.15 181.94,322.04 184.44,322.94 186.94,323.83 189.43,324.73 191.93,325.62 194.42,326.51 196.92,327.41 199.42,328.30 201.91,329.19 204.41,330.09 206.90,330.98 209.40,331.87 211.90,332.76 214.39,333.65 216.89,334.54 219.38,335.43 221.88,336.32 224.38,337.21 226.87,338.10 229.37,338.98 231.86,339.87 234.36,340.76 236.86,341.64 239.35,342.53 241.85,343.41 244.34,344.30 246.84,345.18 249.34,346.06 251.83,346.94 254.33,347.82 256.82,348.70 259.32,349.58 261.82,350.46 264.31,351.33 266.81,352.21 269.30,353.08 271.80,353.95 274.30,354.82 276.79,355.69 279.29,356.56 281.78,357.42 284.28,358.29 286.78,359.15 289.27,360.01 291.77,360.86 294.26,361.72 296.76,362.57 299.26,363.42 301.75,364.26 304.25,365.10 306.74,365.94 309.24,366.78 311.74,367.61 314.23,368.43 316.73,369.25 319.22,370.07 321.72,370.87 324.22,371.68 326.71,372.47 329.21,373.25 331.70,374.03 334.20,374.80 336.70,375.55 339.19,376.29 341.69,377.02 344.18,377.74 346.68,378.43 349.18,379.11 351.67,379.76 354.17,380.39 356.66,380.99 359.16,381.56 361.66,382.10 364.15,382.59 366.65,383.05 369.14,383.45 371.64,383.81 374.14,384.11 376.63,384.34 379.13,384.51 381.62,384.62 384.12,384.65 386.62,384.62 389.11,384.51 391.61,384.34 394.10,384.11 396.60,383.81 399.10,383.45 401.59,383.05 404.09,382.59 406.58,382.10 409.08,381.56 411.58,380.99 414.07,380.39 416.57,379.76 419.06,379.11 421.56,378.43 424.06,377.74 426.55,377.02 429.05,376.29 431.54,375.55 434.04,374.80 436.54,374.03 439.03,373.25 441.53,372.47 444.02,371.68 446.52,370.87 449.02,370.07 451.51,369.25 454.01,368.43 456.50,367.61 459.00,366.78 461.50,365.94 463.99,365.10 466.49,364.26 468.98,363.42 471.48,362.57 473.98,361.72 476.47,360.86 478.97,360.01 481.46,359.15 483.96,358.29 486.46,357.42 488.95,356.56 491.45,355.69 493.94,354.82 496.44,353.95 498.94,353.08 501.43,352.21 503.93,351.33 506.42,350.46 508.92,349.58 511.42,348.70 513.91,347.82 516.41,346.94 518.90,346.06 521.40,345.18 523.90,344.30 526.39,343.41 528.89,342.53 531.38,341.64 533.88,340.76 536.38,339.87 538.87,338.98 541.37,338.10 543.86,337.21 546.36,336.32 548.86,335.43 551.35,334.54 553.85,333.65 556.34,332.76 558.84,331.87 561.34,330.98 563.83,330.09 566.33,329.19 568.82,328.30 571.32,327.41 573.82,326.51 576.31,325.62 578.81,324.73 581.30,323.83 583.80,322.94 586.30,322.04 588.79,321.15 591.29,320.25 593.78,319.36 596.28,318.46 598.78,317.56 601.27,316.67 603.77,315.77 606.26,314.87 608.76,313.98 611.26,313.08 613.75,312.18 616.25,311.28 618.74,310.39 621.24,309.49 623.74,308.59 626.23,307.69 628.73,306.79 631.22,305.89 633.72,305.00 636.22,304.10 638.71,303.20 641.21,302.30 643.70,301.40 646.20,300.50 648.70,299.60 651.19,298.70 653.69,297.80 656.18,296.90 658.68,296.00 661.18,295.10 663.67,294.20 666.17,293.30 668.66,292.40 671.16,291.50 673.66,290.60 676.15,289.70 678.65,288.79 681.14,287.89 683.64,286.99 686.14,286.09 688.63,285.19 691.13,284.29 693.62,283.39 696.12,282.48 698.62,281.58 701.11,280.68 703.61,279.78 706.10,278.88 708.60,277.98" fill="none" stroke="#000" stroke-width="2.6" stroke-linejoin="round"/>
<circle cx="84.60" cy="284.94" r="3.7" fill="none" stroke="#ff0000" stroke-width="2.6"/>
<circle cx="209.40" cy="329.71" r="3.7" fill="none" stroke="#ff0000" stroke-width="2.6"/>
<circle cx="234.36" cy="333.83" r="3.7" fill="none" stroke="#ff0000" stroke-width="2.6"/>
<circle cx="259.32" cy="343.52" r="3.7" fill="none" stroke="#ff0000" stroke-width="2.6"/>
<circle cx="284.28" cy="355.27" r="3.7" fill="none" stroke="#ff0000" stroke-width="2.6"/>
<circle cx="309.24" cy="366.70" r="3.7" fill="none" stroke="#ff0000" stroke-width="2.6"/>
<circle cx="334.20" cy="375.75" r="3.7" fill="none" stroke="#ff0000" stroke-width="2.6"/>
<circle cx="359.16" cy="380.98" r="3.7" fill="none" stroke="#ff0000" stroke-width="2.6"/>
<circle cx="384.12" cy="383.05" r="3.7" fill="none" stroke="#ff0000" stroke-width="2.6"/>
<circle cx="409.08" cy="382.73" r="3.7" fill="none" stroke="#ff0000" stroke-width="2.6"/>
<circle cx="434.04" cy="379.71" r="3.7" fill="none" stroke="#ff0000" stroke-width="2.6"/>
<circle cx="459.00" cy="371.62" r="3.7" fill="none" stroke="#ff0000" stroke-width="2.6"/>
<circle cx="558.84" cy="337.80" r="3.7" fill="none" stroke="#ff0000" stroke-width="2.6"/>
<circle cx="608.76" cy="315.42" r="3.7" fill="none" stroke="#ff0000" stroke-width="2.6"/>
<circle cx="708.60" cy="277.80" r="3.7" fill="none" stroke="#ff0000" stroke-width="2.6"/>
<text x="79.10" y="401.50" text-anchor="end" font-size="15.0" fill="#363636">0</text>
<text x="79.10" y="369.55" text-anchor="end" font-size="15.0" fill="#363636">200</text>
<text x="79.10" y="337.60" text-anchor="end" font-size="15.0" fill="#363636">400</text>
<text x="79.10" y="305.65" text-anchor="end" font-size="15.0" fill="#363636">600</text>
<text x="79.10" y="273.70" text-anchor="end" font-size="15.0" fill="#363636">800</text>
<text x="84.30" y="415.10" text-anchor="middle" font-size="15.0" fill="#363636">55</text>
<text x="209.16" y="415.10" text-anchor="middle" font-size="15.0" fill="#363636">60</text>
<text x="334.11" y="415.10" text-anchor="middle" font-size="15.0" fill="#363636">65</text>
<text x="459.06" y="415.10" text-anchor="middle" font-size="15.0" fill="#363636">70</text>
<text x="584.01" y="415.10" text-anchor="middle" font-size="15.0" fill="#363636">75</text>
<text x="708.96" y="415.10" text-anchor="middle" font-size="15.0" fill="#363636">80</text>
<text x="396.20" y="432.20" text-anchor="middle" font-size="14.4" fill="#363636" textLength="41.0" lengthAdjust="spacingAndGlyphs">D (cm)</text>
<text transform="translate(41.6,357.80) rotate(-90)" font-size="15.0" fill="#363636" textLength="49.2" lengthAdjust="spacingAndGlyphs">w<tspan dy="6" font-size="12.5">y</tspan><tspan dy="-6"> (</tspan><tspan font-style="italic" font-family="'Liberation Serif',serif" font-size="15.5">μ</tspan>m)</text>
<rect x="326.7" y="91.4" width="116" height="43.8" fill="#fff" stroke="#3a3a3a" stroke-width="1"/>
<circle cx="348.7" cy="102.5" r="3.7" fill="none" stroke="#ff0000" stroke-width="2.6"/>
<line x1="330.2" y1="123.3" x2="367.1" y2="123.3" stroke="#000" stroke-width="2.6"/>
<text x="370.40" y="107.80" font-size="15.5" fill="#1c1c1c" textLength="57.6" lengthAdjust="spacingAndGlyphs" stroke="#1c1c1c" stroke-width="0.25">DataRay</text>
<text x="370.40" y="129.80" font-size="15.5" fill="#1c1c1c" stroke="#1c1c1c" stroke-width="0.25">M<tspan dy="-6.6" dx="0.6" font-size="12.5">2</tspan></text>
<text x="437.90" y="129.80" text-anchor="end" font-size="15.5" fill="#1c1c1c" textLength="41.3" lengthAdjust="spacingAndGlyphs" stroke="#1c1c1c" stroke-width="0.25">&lt; 1.25</text>
</svg>
</body></html>
